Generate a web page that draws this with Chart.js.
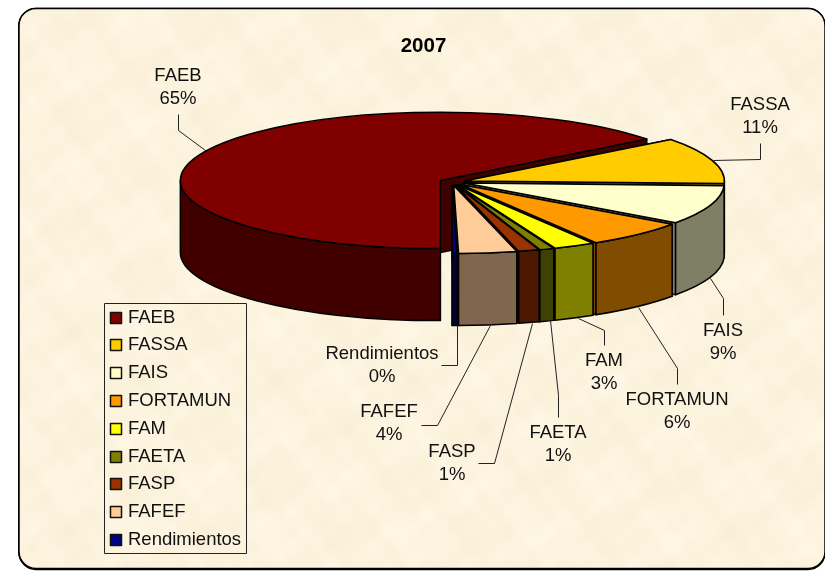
<!DOCTYPE html>
<html>
<head>
<meta charset="utf-8">
<style>
html, body { margin: 0; padding: 0; background: #fff; }
#wrap { width: 825px; height: 572px; overflow: hidden; }
</style>
<script src="https://cdn.jsdelivr.net/npm/chart.js@4"></script>
</head>
<body>
<div id="wrap"><canvas id="grafica" width="825" height="572"></canvas></div>
<script>
var fondos = ['FAEB', 'FASSA', 'FAIS', 'FORTAMUN', 'FAM', 'FAETA', 'FASP', 'FAFEF', 'Rendimientos'];
var porcentajes = [64.6, 11.0, 9.3, 6.4, 2.6, 0.9, 1.3, 3.6, 0.3];
var colores = ['#800000', '#FFCC00', '#FFFFCC', '#FF9900', '#FFFF00', '#808000', '#993300', '#FFCC99', '#000080'];
var titulo = '2007';

// label centre and leader line per slice, same order as fondos
var etiquetas = [
  { x: 178, y: 76, linea: [[178, 114], [178, 130], [205, 150]] },
  { x: 760, y: 105, linea: [[760, 143], [760, 159], [713, 160]] },
  { x: 723, y: 331, linea: [[723, 315], [723, 298], [710, 278]] },
  { x: 677, y: 400, linea: [[677, 384], [677, 368], [638, 307]] },
  { x: 604, y: 361, linea: [[604, 345], [604, 330], [578, 318]] },
  { x: 558, y: 433, linea: [[558, 417], [558, 395], [550, 320]] },
  { x: 452, y: 452, linea: [[478, 463], [494, 463], [532, 323]] },
  { x: 389, y: 412, linea: [[421, 425], [437, 425], [490, 325]] },
  { x: 382, y: 354, linea: [[441, 365], [457, 365], [457, 325]] }
];

var cx = 452, cy = 182, achat = 0.262, grosor = 72;
var fuente = '18.5px "Liberation Sans", Arial, sans-serif';

function oscuro(hex) {
  var n = parseInt(hex.slice(1), 16);
  return 'rgb(' + ((n >> 16) >> 1) + ',' + (((n >> 8) & 255) >> 1) + ',' + ((n & 255) >> 1) + ')';
}

function trazar(ctx, color) {
  ctx.fillStyle = color;
  ctx.fill();
  ctx.strokeStyle = '#000';
  ctx.lineWidth = 1.5;
  ctx.lineJoin = 'round';
  ctx.stroke();
}

function dibujarRebanada(ctx, arc) {
  var a0 = arc.startAngle, a1 = arc.endAngle, r = arc.outerRadius;
  var medio = (a0 + a1) / 2;
  var x0 = cx + Math.cos(medio) * arc.options.offset;
  var y0 = cy + Math.sin(medio) * arc.options.offset * achat;
  var rb = r * achat;
  var color = arc.options.backgroundColor;
  var sombra = oscuro(color);

  // cut faces go first, the outer wall covers what is behind it
  [a0, a1].forEach(function (a) {
    var px = x0 + r * Math.cos(a), py = y0 + rb * Math.sin(a);
    ctx.beginPath();
    ctx.moveTo(x0, y0);
    ctx.lineTo(px, py);
    ctx.lineTo(px, py + grosor);
    ctx.lineTo(x0, y0 + grosor);
    ctx.closePath();
    trazar(ctx, sombra);
  });

  // outer wall, only the part facing the viewer
  var vuelta = Math.PI * 2;
  [0, vuelta].forEach(function (k) {
    var ini = Math.max(a0, k), fin = Math.min(a1, k + Math.PI);
    if (fin <= ini) return;
    ctx.beginPath();
    ctx.ellipse(x0, y0, r, rb, 0, ini, fin);
    ctx.ellipse(x0, y0 + grosor, r, rb, 0, fin, ini, true);
    ctx.closePath();
    trazar(ctx, sombra);
  });

  // top
  ctx.beginPath();
  ctx.moveTo(x0, y0);
  ctx.ellipse(x0, y0, r, rb, 0, a0, a1);
  ctx.closePath();
  trazar(ctx, color);
}

// parchment background, soft mottling only
function texturaFondo() {
  var c = document.createElement('canvas');
  c.width = 825; c.height = 572;
  var g = c.getContext('2d');
  var img = g.createImageData(825, 572);
  for (var y = 0; y < 572; y++) {
    for (var x = 0; x < 825; x++) {
      var v = Math.sin(x * 0.047 + 1.3) * Math.sin(y * 0.061 + 0.4) +
              0.7 * Math.sin(x * 0.113 + y * 0.037) * Math.sin(y * 0.127 - x * 0.029 + 2.1) +
              0.5 * Math.sin(x * 0.23 + 0.8) * Math.sin(y * 0.19 + 1.7);
      var i = (y * 825 + x) * 4;
      img.data[i] = 252 + v * 1.5;
      img.data[i + 1] = 243 + v * 2;
      img.data[i + 2] = 222 + v * 4;
      img.data[i + 3] = 255;
    }
  }
  g.putImageData(img, 0, 0);
  return c;
}

var pastel3d = {
  id: 'pastel3d',
  beforeDraw: function (chart) {
    var ctx = chart.ctx;
    ctx.save();
    // heavier lower edge
    ctx.beginPath();
    ctx.roundRect(19, 9.5, 806, 560, 17);
    ctx.lineWidth = 1.5;
    ctx.strokeStyle = '#000';
    ctx.stroke();
    ctx.beginPath();
    ctx.roundRect(19, 8.5, 806, 560, 17);
    ctx.stroke();
    ctx.clip();
    ctx.drawImage(texturaFondo(), 0, 0);
    ctx.restore();
    ctx.save();
    ctx.beginPath();
    ctx.roundRect(19, 8.5, 806, 560, 17);
    ctx.lineWidth = 1.5;
    ctx.strokeStyle = '#000';
    ctx.stroke();
    ctx.restore();
  },
  beforeDatasetsDraw: function (chart) {
    var ctx = chart.ctx;
    var arcos = chart.getDatasetMeta(0).data;
    ctx.save();
    for (var i = 0; i < arcos.length; i++) dibujarRebanada(ctx, arcos[i]);

    // leader lines and labels
    var total = porcentajes.reduce(function (a, b) { return a + b; }, 0);
    ctx.font = fuente;
    ctx.textAlign = 'center';
    ctx.textBaseline = 'middle';
    ctx.lineWidth = 1;
    ctx.strokeStyle = '#222';
    etiquetas.forEach(function (e, i) {
      ctx.beginPath();
      e.linea.forEach(function (p, j) {
        if (j === 0) ctx.moveTo(p[0] + 0.5, p[1] + 0.5);
        else ctx.lineTo(p[0] + 0.5, p[1] + 0.5);
      });
      ctx.stroke();
      ctx.fillStyle = '#111';
      ctx.fillText(fondos[i], e.x, e.y);
      ctx.fillText(Math.round(porcentajes[i] / total * 100) + '%', e.x, e.y + 23);
    });

    // legend box
    ctx.strokeStyle = '#222';
    ctx.strokeRect(104.5, 303.5, 142, 250);
    ctx.textAlign = 'left';
    arcos.forEach(function (arc, i) {
      var y = 317.5 + i * 27.8;
      ctx.fillStyle = arc.options.backgroundColor;
      ctx.fillRect(110.5, Math.round(y) - 5.5, 11, 11);
      ctx.lineWidth = 1.5;
      ctx.strokeStyle = '#111';
      ctx.strokeRect(110.5, Math.round(y) - 5.5, 11, 11);
      ctx.fillStyle = '#111';
      ctx.fillText(fondos[i], 128, y);
    });
    ctx.restore();
    return false;
  }
};

new Chart(document.getElementById('grafica').getContext('2d'), {
  type: 'pie',
  data: {
    labels: fondos,
    datasets: [{ data: porcentajes, backgroundColor: colores, borderWidth: 0, offset: 13 }]
  },
  options: {
    responsive: false,
    animation: false,
    rotation: 180,
    radius: 260,
    layout: { padding: { left: 22, right: 0, top: 34, bottom: 0 } },
    plugins: {
      legend: { display: false },
      tooltip: { enabled: false },
      title: {
        display: true,
        text: titulo,
        color: '#000',
        font: { family: '"Liberation Sans", Arial, sans-serif', size: 20.5, weight: 'bold' },
        padding: { top: 0, bottom: 0 }
      }
    }
  },
  plugins: [pastel3d]
});
</script>
</body>
</html>
